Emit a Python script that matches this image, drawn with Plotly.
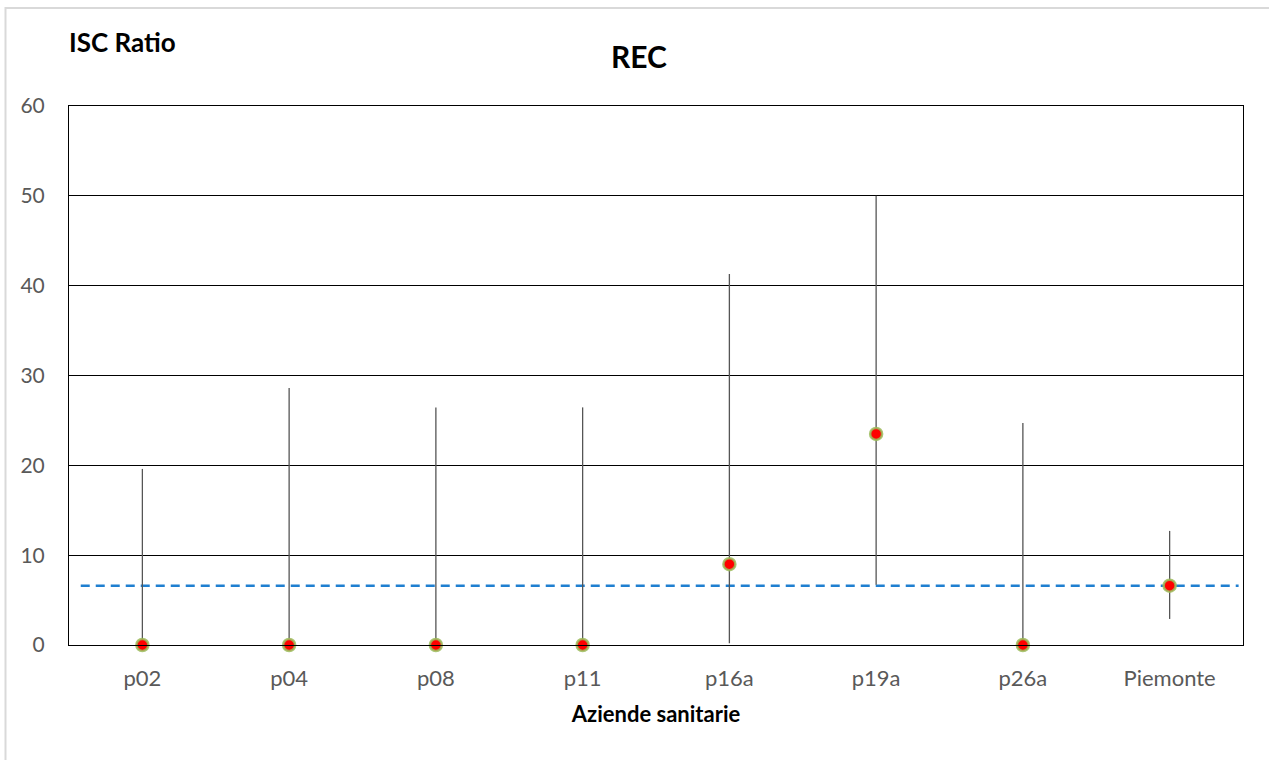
import plotly.graph_objects as go

# ISC ratio per azienda sanitaria, with confidence limits
aziende = ["p02", "p04", "p08", "p11", "p16a", "p19a", "p26a", "Piemonte"]
isc_ratio = [0.0, 0.0, 0.0, 0.0, 9.0, 23.5, 0.0, 6.6]
ic_sup = [19.6, 28.6, 26.45, 26.45, 41.3, 50.0, 24.7, 12.7]
ic_inf = [0.0, 0.0, 0.0, 0.0, 0.2, 6.7, 0.0, 2.9]
ratio_regionale = 6.6
y_ticks = [0, 10, 20, 30, 40, 50, 60]

xpos = list(range(len(aziende)))
err_plus = [s - v for s, v in zip(ic_sup, isc_ratio)]
err_minus = [v - i for v, i in zip(isc_ratio, ic_inf)]

FONT = "Lato"

fig = go.Figure()

# regional reference line (dashed) across the plot
fig.add_trace(go.Scatter(
    x=[-0.42, len(aziende) - 0.53],
    y=[ratio_regionale, ratio_regionale],
    mode="lines",
    line=dict(color="#1f7fd0", width=2.6, dash="9px,6px"),
    hoverinfo="skip",
    showlegend=False,
))

# points with confidence intervals
fig.add_trace(go.Scatter(
    x=xpos,
    y=isc_ratio,
    mode="markers",
    marker=dict(size=12, color="#ff0000",
                line=dict(color="rgba(155,187,89,0.85)", width=2.5)),
    error_y=dict(type="data", symmetric=False, array=err_plus,
                 arrayminus=err_minus, color="#555555", thickness=1.3, width=0),
    showlegend=False,
    cliponaxis=False,
))

fig.update_layout(
    width=1269, height=760,
    margin=dict(l=69, r=26, t=106, b=115),
    paper_bgcolor="white",
    plot_bgcolor="white",
    font=dict(family=FONT, color="#595959"),
    title=dict(text="<b>REC</b>", x=0.5035, xanchor="center", y=0.925, yanchor="middle",
               font=dict(family=FONT, size=30, color="#000000")),
    showlegend=False,
    shapes=[
        dict(type="rect", xref="paper", yref="paper",
             x0=-69 / 1174 + 5.5 / 1174, x1=1.2,
             y0=-0.5, y1=1 + (106 - 8) / 539,
             line=dict(color="#d9d9d9", width=2), layer="below"),
    ],
    annotations=[
        dict(text="<b>ISC Ratio</b>", xref="paper", yref="paper",
             x=-2.5 / 1174, y=1 + (106 - 42) / 539, xanchor="left", yanchor="middle",
             showarrow=False, font=dict(family=FONT, size=26, color="#000000")),
    ],
)

fig.update_xaxes(
    range=[-0.5, len(aziende) - 0.5],
    tickvals=xpos, ticktext=aziende,
    showgrid=False, zeroline=False,
    showline=True, mirror=True, linecolor="#000000", linewidth=1,
    ticks="", ticklabelstandoff=14,
    tickfont=dict(family=FONT, size=22, color="#595959"),
    title=dict(text="<b>Aziende sanitarie</b>", standoff=16,
               font=dict(family=FONT, size=22, color="#000000")),
)

fig.update_yaxes(
    range=[0, 60],
    tickvals=y_ticks,
    showgrid=True, gridcolor="#000000", gridwidth=1,
    zeroline=False,
    showline=True, mirror=True, linecolor="#000000", linewidth=1,
    ticks="", ticklabelstandoff=19,
    tickfont=dict(family=FONT, size=21, color="#595959"),
)

fig.write_html("out.html")
